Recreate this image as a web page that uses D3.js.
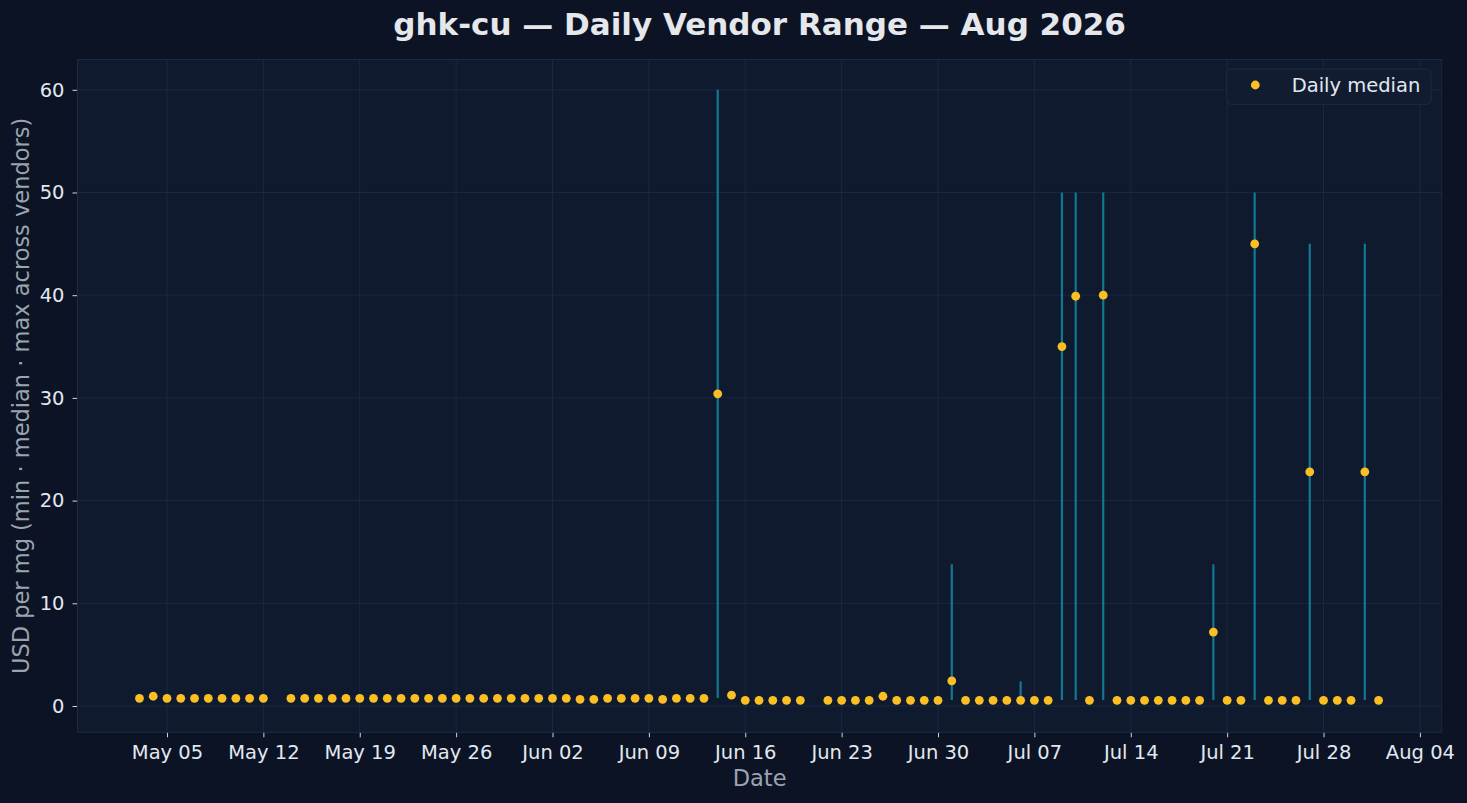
<!DOCTYPE html>
<html>
<head>
<meta charset="utf-8">
<script src="https://cdn.jsdelivr.net/npm/d3@7"></script>
<style>
  html, body { margin: 0; padding: 0; background: #0b1324; }
  svg { display: block; font-family: "DejaVu Sans", sans-serif; }
</style>
</head>
<body>
<svg id="chart" width="1467" height="803"></svg>
<script>
// daily data (May 13 and Jun 21 have no data)
const days = [
  '2026-05-03','2026-05-04','2026-05-05','2026-05-06','2026-05-07','2026-05-08','2026-05-09','2026-05-10','2026-05-11','2026-05-12',
  '2026-05-14','2026-05-15','2026-05-16','2026-05-17','2026-05-18','2026-05-19','2026-05-20','2026-05-21','2026-05-22','2026-05-23',
  '2026-05-24','2026-05-25','2026-05-26','2026-05-27','2026-05-28','2026-05-29','2026-05-30','2026-05-31','2026-06-01','2026-06-02',
  '2026-06-03','2026-06-04','2026-06-05','2026-06-06','2026-06-07','2026-06-08','2026-06-09','2026-06-10','2026-06-11','2026-06-12',
  '2026-06-13','2026-06-14','2026-06-15','2026-06-16','2026-06-17','2026-06-18','2026-06-19','2026-06-20','2026-06-22','2026-06-23',
  '2026-06-24','2026-06-25','2026-06-26','2026-06-27','2026-06-28','2026-06-29','2026-06-30','2026-07-01','2026-07-02','2026-07-03',
  '2026-07-04','2026-07-05','2026-07-06','2026-07-07','2026-07-08','2026-07-09','2026-07-10','2026-07-11','2026-07-12','2026-07-13',
  '2026-07-14','2026-07-15','2026-07-16','2026-07-17','2026-07-18','2026-07-19','2026-07-20','2026-07-21','2026-07-22','2026-07-23',
  '2026-07-24','2026-07-25','2026-07-26','2026-07-27','2026-07-28','2026-07-29','2026-07-30','2026-07-31','2026-08-01'
];

const medians = [
  0.75, 0.95, 0.75, 0.75, 0.75, 0.75, 0.75, 0.75, 0.75, 0.75,
  0.75, 0.75, 0.75, 0.75, 0.75, 0.75, 0.75, 0.75, 0.75, 0.75,
  0.75, 0.75, 0.75, 0.75, 0.75, 0.75, 0.75, 0.75, 0.75, 0.75,
  0.75, 0.65, 0.65, 0.75, 0.75, 0.75, 0.75, 0.65, 0.75, 0.75,
  0.75, 30.4, 1.05, 0.55, 0.55, 0.55, 0.55, 0.55, 0.55, 0.55,
  0.55, 0.55, 0.95, 0.55, 0.55, 0.55, 0.55, 2.45, 0.55, 0.55,
  0.55, 0.55, 0.55, 0.55, 0.55, 35.0, 39.9, 0.55, 40.0, 0.55,
  0.55, 0.55, 0.55, 0.55, 0.55, 0.55, 7.2, 0.55, 0.55, 45.0,
  0.55, 0.55, 0.55, 22.8, 0.55, 0.55, 0.55, 22.8, 0.55
];

// days where vendors disagree (min..max span)
const spanDays = ['2026-06-14','2026-07-01','2026-07-06','2026-07-09','2026-07-10','2026-07-12','2026-07-20','2026-07-23','2026-07-27','2026-07-31'];
const spanMin  = [0.78, 0.58, 0.58, 0.58, 0.58, 0.58, 0.58, 0.58, 0.58, 0.58];
const spanMax  = [60, 13.8, 2.4, 50, 50, 50, 13.8, 50, 45, 45];

const yTicks = [0, 10, 20, 30, 40, 50, 60];

const parse = d3.timeParse('%Y-%m-%d');

const svg = d3.select('#chart');
const W = 1467, H = 803;
const margin = { top: 59.5, right: 25.3, bottom: 70.7, left: 77.5 };
const iw = W - margin.left - margin.right;
const ih = H - margin.top - margin.bottom;

// 4.5 day padding like matplotlib's default margins
const x = d3.scaleTime()
  .domain([d3.timeHour.offset(parse('2026-05-03'), -108), d3.timeHour.offset(parse('2026-08-01'), 110)])
  .range([0, iw]);
const y = d3.scaleLinear().domain([-2.56, 62.95]).range([ih, 0]);

svg.append('rect').attr('width', W).attr('height', H).attr('fill', '#0b1324');

const g = svg.append('g').attr('transform', `translate(${margin.left},${margin.top})`);

g.append('rect').attr('width', iw).attr('height', ih).attr('fill', '#0f1a2e');

// weekly ticks, starting on May 05
const weekTicks = d3.timeDay.range(parse('2026-05-05'), parse('2026-08-05'), 7);

// grid
g.append('g').selectAll('line').data(weekTicks).join('line')
  .attr('x1', d => x(d)).attr('x2', d => x(d))
  .attr('y1', 0).attr('y2', ih)
  .attr('stroke', '#1c2740').attr('stroke-width', 1);
g.append('g').selectAll('line').data(yTicks).join('line')
  .attr('x1', 0).attr('x2', iw)
  .attr('y1', d => y(d)).attr('y2', d => y(d))
  .attr('stroke', '#1c2740').attr('stroke-width', 1);

// axes
const xAxis = g.append('g')
  .attr('transform', `translate(0,${ih})`)
  .call(d3.axisBottom(x).tickValues(weekTicks).tickFormat(d3.timeFormat('%b %d')).tickSize(5).tickPadding(8));
const yAxis = g.append('g')
  .call(d3.axisLeft(y).tickValues(yTicks).tickSize(5).tickPadding(8));

[xAxis, yAxis].forEach(a => {
  a.attr('font-family', '"DejaVu Sans", sans-serif').attr('font-size', null);
  a.select('.domain').remove();
  a.selectAll('.tick line').attr('stroke', '#cbd5e1');
  a.selectAll('.tick text').attr('fill', '#e2e8f0').style('font-size', '19.5px');
});

// frame
g.append('rect').attr('width', iw).attr('height', ih)
  .attr('fill', 'none').attr('stroke', '#1f2a3f').attr('stroke-width', 1);

// vendor ranges
g.append('g').selectAll('line').data(spanDays).join('line')
  .attr('x1', d => x(parse(d))).attr('x2', d => x(parse(d)))
  .attr('y1', (d, i) => y(spanMin[i])).attr('y2', (d, i) => y(spanMax[i]))
  .attr('stroke', '#138aa3').attr('stroke-opacity', 0.85).attr('stroke-width', 2.2);

// medians
g.append('g').selectAll('circle').data(days).join('circle')
  .attr('cx', d => x(parse(d)))
  .attr('cy', (d, i) => y(medians[i]))
  .attr('r', 4.4)
  .attr('fill', '#fbbf24');

// titles
svg.append('text')
  .attr('x', margin.left + iw / 2).attr('y', 35)
  .attr('text-anchor', 'middle')
  .attr('fill', '#e5e7eb')
  .style('font-size', '31px').style('font-weight', 'bold')
  .text('ghk-cu — Daily Vendor Range — Aug 2026');

svg.append('text')
  .attr('x', margin.left + iw / 2).attr('y', 786)
  .attr('text-anchor', 'middle')
  .attr('fill', '#9ca3af')
  .style('font-size', '22.5px')
  .text('Date');

svg.append('text')
  .attr('transform', `translate(29,${margin.top + ih / 2}) rotate(-90)`)
  .attr('text-anchor', 'middle')
  .attr('fill', '#9ca3af')
  .style('font-size', '22.5px')
  .text('USD per mg (min · median · max across vendors)');

// legend
const lg = svg.append('g');
lg.append('rect')
  .attr('x', 1226.7).attr('y', 69).attr('width', 204.3).attr('height', 35.3)
  .attr('rx', 4).attr('fill', '#111c30').attr('stroke', '#1f2a3f');
lg.append('circle').attr('cx', 1255.3).attr('cy', 85).attr('r', 4.4).attr('fill', '#fbbf24');
lg.append('text')
  .attr('x', 1291.7).attr('y', 92)
  .attr('fill', '#e2e8f0')
  .style('font-size', '19.5px')
  .text('Daily median');
</script>
</body>
</html>
